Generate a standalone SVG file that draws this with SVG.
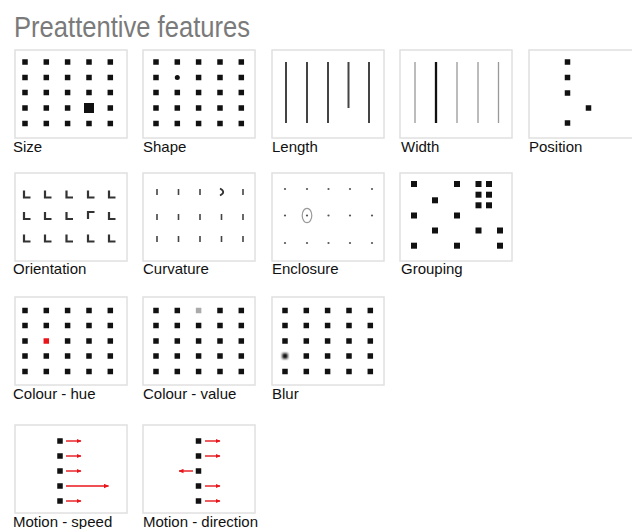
<svg xmlns="http://www.w3.org/2000/svg" width="632" height="529" viewBox="0 0 632 529">
<defs>
<style>
.panel{fill:#fff;stroke:#e0e0e0;stroke-width:1.5}
.lbl{font-family:"Liberation Sans",Arial,sans-serif;font-size:15px;fill:#111}
.title{font-family:"Liberation Sans",Arial,sans-serif;font-size:29px;fill:#7a7a7a}
.d{fill:#111}
.ln{stroke:#444;stroke-width:2;fill:none}
.thin{stroke:#999;stroke-width:1.3;fill:none}
.ori{stroke:#333;stroke-width:2.2;fill:none}
.tick{stroke:#444;stroke-width:1.6;fill:none}
.arr{stroke:#e8161b;stroke-width:1.4;fill:none}
</style>
<rect id="sq" x="-2.75" y="-2.75" width="5.5" height="5.5"/>
<rect id="gs" x="-3" y="-3" width="6" height="6"/>
<g id="grid5" class="d">
<use href="#sq" x="0" y="0"/><use href="#sq" x="21.3" y="0"/><use href="#sq" x="42.6" y="0"/><use href="#sq" x="64" y="0"/><use href="#sq" x="85.3" y="0"/>
</g>
<marker id="ah" markerWidth="5" markerHeight="5" refX="4.5" refY="2.5" orient="auto" markerUnits="userSpaceOnUse">
<path d="M0,0.3 L5,2.5 L0,4.7 Z" fill="#e8161b"/>
</marker>
<filter id="blur" x="-1" y="-1" width="3" height="3"><feGaussianBlur stdDeviation="0.8"/></filter>
</defs>
<rect width="632" height="529" fill="#fff"/>
<text class="title" x="14" y="37" textLength="236" lengthAdjust="spacingAndGlyphs">Preattentive features</text>

<g id="size">
<rect class="panel" x="15" y="50" width="112" height="88"/>
<g class="d">
<use href="#grid5" x="25" y="62"/><use href="#grid5" x="25" y="77.5"/><use href="#grid5" x="25" y="92.5"/>
<use href="#sq" x="25" y="108"/><use href="#sq" x="46.3" y="108"/><use href="#sq" x="67.6" y="108"/><use href="#sq" x="110.3" y="108"/>
<rect x="84" y="103" width="10" height="10"/>
<use href="#grid5" x="25" y="123.5"/>
</g>
<text class="lbl" x="13" y="152">Size</text>
</g>

<g id="shape">
<rect class="panel" x="143" y="50" width="112" height="88"/>
<g class="d">
<use href="#grid5" x="156" y="62"/>
<use href="#sq" x="156" y="77.5"/><circle cx="177.3" cy="77.5" r="2.5"/><use href="#sq" x="198.6" y="77.5"/><use href="#sq" x="220" y="77.5"/><use href="#sq" x="241.3" y="77.5"/>
<use href="#grid5" x="156" y="92.5"/><use href="#grid5" x="156" y="108"/><use href="#grid5" x="156" y="123.5"/>
</g>
<text class="lbl" x="143" y="152">Shape</text>
</g>

<g id="length">
<rect class="panel" x="272" y="50" width="112" height="88"/>
<path class="ln" d="M286,62V123M307,62V123M328,62V123M348.5,62V108M369,62V123"/>
<text class="lbl" x="272" y="152">Length</text>
</g>

<g id="width">
<rect class="panel" x="400" y="50" width="112" height="88"/>
<path class="thin" d="M415,62V123M457,62V123M478,62V123M498.5,62V123"/>
<path d="M436,62V123" stroke="#111" stroke-width="2.3"/>
<text class="lbl" x="401" y="152">Width</text>
</g>

<g id="position">
<rect class="panel" x="529" y="50" width="112" height="88"/>
<g class="d">
<use href="#sq" x="567.5" y="62"/><use href="#sq" x="567.5" y="77.5"/><use href="#sq" x="567.5" y="93"/><use href="#sq" x="588.5" y="108"/><use href="#sq" x="567.5" y="123"/>
</g>
<text class="lbl" x="529" y="152">Position</text>
</g>

<g id="orientation">
<rect class="panel" x="15" y="173" width="112" height="88"/>
<path class="ori" d="M24,190.5V197.5H30.5M45,190.5V197.5H51.5M66.5,190.5V197.5H73M88,190.5V197.5H94.5M109,190.5V197.5H115.5
M24,212V219H30.5M45,212V219H51.5M66.5,212V219H73M109,212V219H115.5
M24,234.5V241.5H30.5M45,234.5V241.5H51.5M66.5,234.5V241.5H73M88,234.5V241.5H94.5M109,234.5V241.5H115.5"/>
<path class="ori" d="M88,219V212H94.5"/>
<text class="lbl" x="13" y="274">Orientation</text>
</g>

<g id="curvature">
<rect class="panel" x="143" y="173" width="112" height="88"/>
<path class="tick" d="M157,189V195M178.5,189V195M200,189V195M243,189V195
M157,214V220M178.5,214V220M200,214V220M221.5,214V220M243,214V220
M157,236V242M178.5,236V242M200,236V242M221.5,236V242M243,236V242"/>
<path d="M220,188.5Q226.5,192 220,195.5" stroke="#333" stroke-width="1.8" fill="none"/>
<text class="lbl" x="143" y="274">Curvature</text>
</g>

<g id="enclosure">
<rect class="panel" x="272" y="173" width="112" height="88"/>
<g fill="#555">
<circle cx="285" cy="189" r="1.1"/><circle cx="307" cy="189" r="1.1"/><circle cx="328.5" cy="189" r="1.1"/><circle cx="350" cy="189" r="1.1"/><circle cx="372" cy="189" r="1.1"/>
<circle cx="285" cy="215.5" r="1.1"/><circle cx="307" cy="215.5" r="1.1"/><circle cx="328.5" cy="215.5" r="1.1"/><circle cx="350" cy="215.5" r="1.1"/><circle cx="372" cy="215.5" r="1.1"/>
<circle cx="285" cy="243" r="1.1"/><circle cx="307" cy="243" r="1.1"/><circle cx="328.5" cy="243" r="1.1"/><circle cx="350" cy="243" r="1.1"/><circle cx="372" cy="243" r="1.1"/>
</g>
<ellipse cx="307" cy="215.5" rx="4.8" ry="7.2" fill="none" stroke="#999" stroke-width="1.2"/>
<text class="lbl" x="272" y="274">Enclosure</text>
</g>

<g id="grouping">
<rect class="panel" x="400" y="173" width="112" height="88"/>
<g class="d">
<use href="#gs" x="414" y="184"/><use href="#gs" x="457" y="184"/><use href="#gs" x="478.5" y="184"/><use href="#gs" x="489" y="184"/>
<use href="#gs" x="478.5" y="194.7"/><use href="#gs" x="489" y="194.7"/>
<use href="#gs" x="478.5" y="205.3"/><use href="#gs" x="489" y="205.3"/>
<use href="#gs" x="435" y="200.3"/>
<use href="#gs" x="414" y="215.5"/><use href="#gs" x="457" y="215.5"/>
<use href="#gs" x="435" y="230.5"/><use href="#gs" x="478.5" y="230.5"/><use href="#gs" x="500" y="230.5"/>
<use href="#gs" x="414" y="245.7"/><use href="#gs" x="457" y="245.7"/><use href="#gs" x="500" y="245.7"/>
</g>
<text class="lbl" x="401" y="274">Grouping</text>
</g>

<g id="colour-hue">
<rect class="panel" x="15" y="297" width="112" height="88"/>
<g class="d">
<use href="#grid5" x="25" y="310.5"/><use href="#grid5" x="25" y="325.5"/>
<use href="#sq" x="25" y="341"/><use href="#sq" x="46.3" y="341" fill="#e8161b"/><use href="#sq" x="67.6" y="341"/><use href="#sq" x="89" y="341"/><use href="#sq" x="110.3" y="341"/>
<use href="#grid5" x="25" y="356"/><use href="#grid5" x="25" y="371.5"/>
</g>
<text class="lbl" x="13" y="399">Colour - hue</text>
</g>

<g id="colour-value">
<rect class="panel" x="143" y="297" width="112" height="88"/>
<g class="d">
<use href="#sq" x="156" y="310.5"/><use href="#sq" x="177.3" y="310.5"/><use href="#sq" x="198.6" y="310.5" fill="#aaa"/><use href="#sq" x="220" y="310.5"/><use href="#sq" x="241.3" y="310.5"/>
<use href="#grid5" x="156" y="325.5"/><use href="#grid5" x="156" y="341"/><use href="#grid5" x="156" y="356"/><use href="#grid5" x="156" y="371.5"/>
</g>
<text class="lbl" x="143" y="399">Colour - value</text>
</g>

<g id="blur-panel">
<rect class="panel" x="272" y="297" width="112" height="88"/>
<g class="d">
<use href="#grid5" x="285" y="310.5"/><use href="#grid5" x="285" y="325.5"/><use href="#grid5" x="285" y="341"/>
<use href="#sq" x="285" y="356" filter="url(#blur)"/><use href="#sq" x="306.3" y="356"/><use href="#sq" x="327.6" y="356"/><use href="#sq" x="349" y="356"/><use href="#sq" x="370.3" y="356"/>
<use href="#grid5" x="285" y="371.5"/>
</g>
<text class="lbl" x="272" y="399">Blur</text>
</g>

<g id="motion-speed">
<rect class="panel" x="15" y="425" width="112" height="88"/>
<g class="d">
<use href="#sq" x="60" y="441"/><use href="#sq" x="60" y="456"/><use href="#sq" x="60" y="471"/><use href="#sq" x="60" y="486"/><use href="#sq" x="60" y="501"/>
</g>
<text class="lbl" x="13" y="527">Motion - speed</text>
</g>

<g id="motion-direction">
<rect class="panel" x="143" y="425" width="112" height="88"/>
<g class="d">
<use href="#sq" x="198.5" y="441"/><use href="#sq" x="198.5" y="456"/><use href="#sq" x="198.5" y="471"/><use href="#sq" x="198.5" y="486"/><use href="#sq" x="198.5" y="501"/>
</g>
<text class="lbl" x="143" y="527">Motion - direction</text>
</g>

<g id="connectors">
<path class="arr" marker-end="url(#ah)" d="M66,441H81"/>
<path class="arr" marker-end="url(#ah)" d="M66,456H81"/>
<path class="arr" marker-end="url(#ah)" d="M66,471H81"/>
<path class="arr" marker-end="url(#ah)" d="M66,486H108.5"/>
<path class="arr" marker-end="url(#ah)" d="M66,501H81"/>
<path class="arr" marker-end="url(#ah)" d="M205,441H220"/>
<path class="arr" marker-end="url(#ah)" d="M205,456H220"/>
<path class="arr" marker-end="url(#ah)" d="M193,471H179"/>
<path class="arr" marker-end="url(#ah)" d="M205,486H220"/>
<path class="arr" marker-end="url(#ah)" d="M205,501H220"/>
</g>
</svg>
